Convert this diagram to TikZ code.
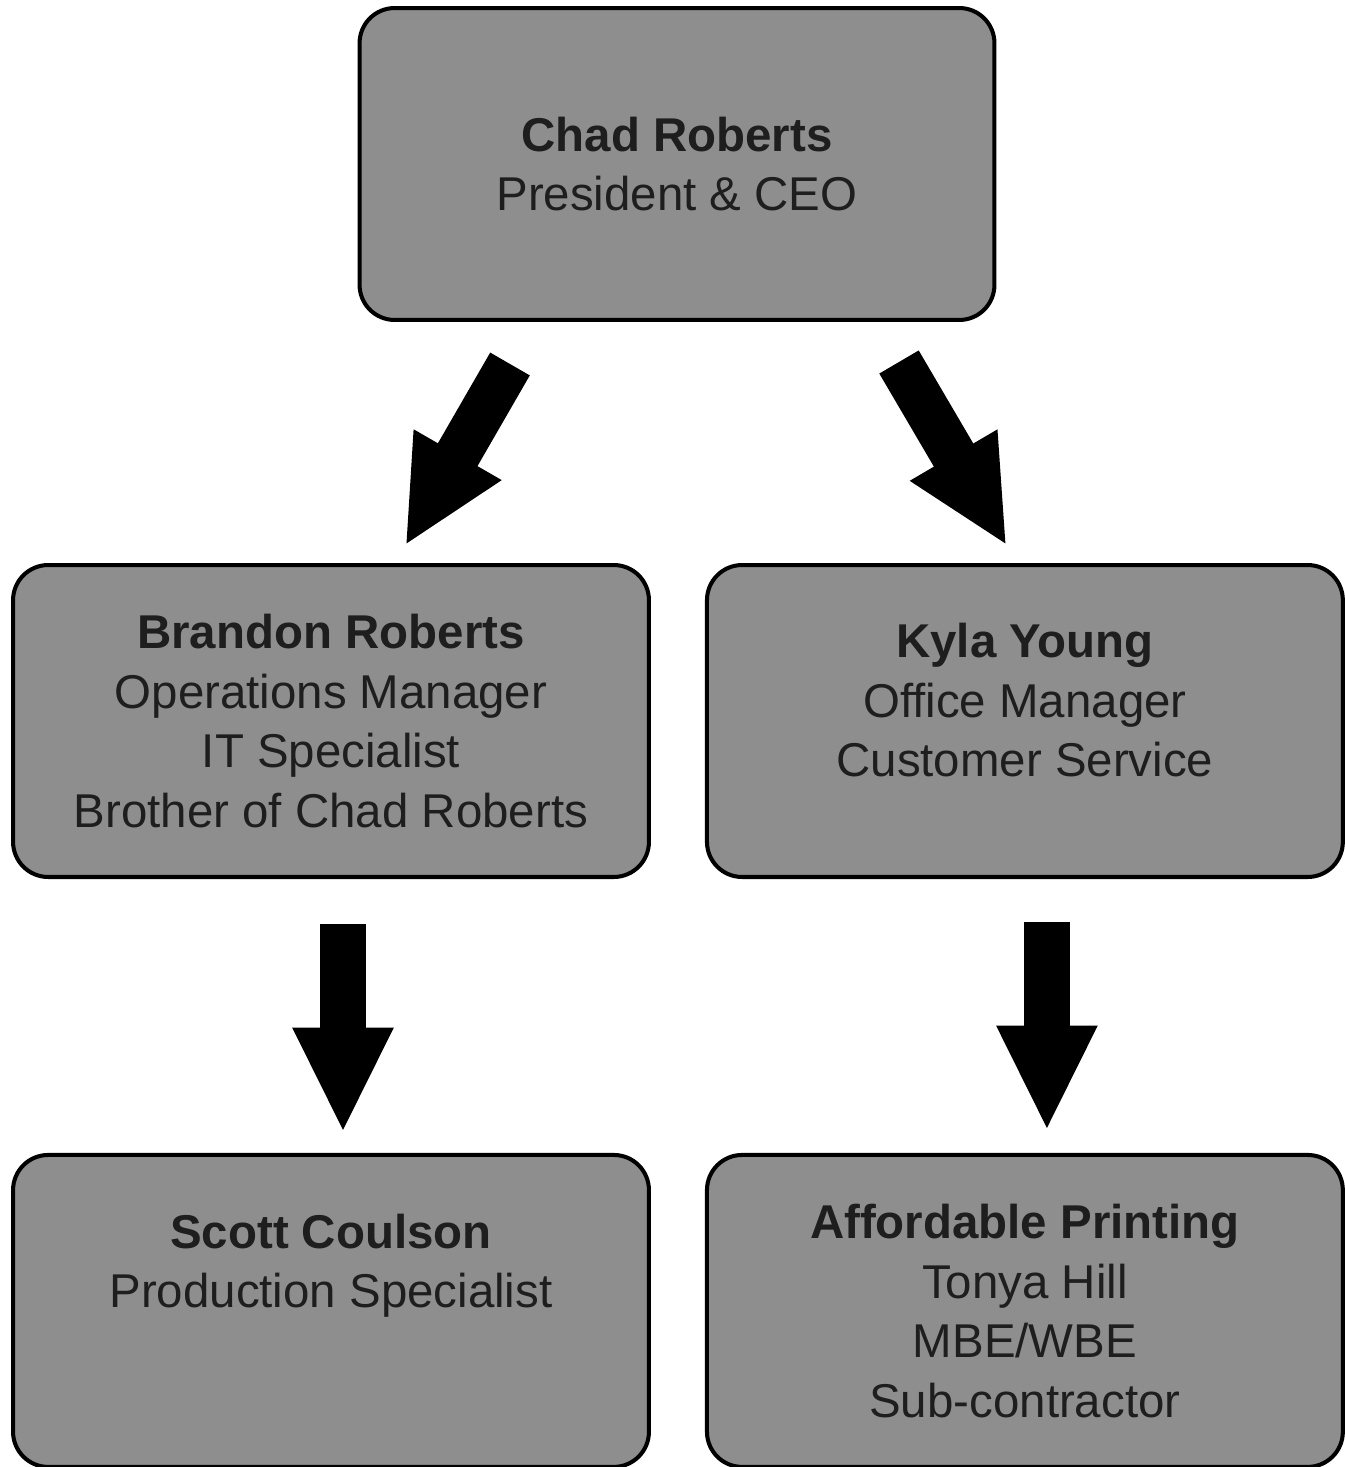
\documentclass[tikz,border=0pt]{standalone}
\usepackage{fontspec}
\setmainfont{Liberation Sans}
\usepackage{tikz}
\usetikzlibrary{arrows.meta,positioning,calc}
\definecolor{boxgray}{HTML}{8E8E8E}
\definecolor{inkgray}{HTML}{1E1E1E}
\tikzstyle{orgbox} = [draw=black, line width=2.3pt, fill=boxgray, text=inkgray,
align=center, rounded corners=20pt, minimum width=12.72cm, minimum height=6.24cm,
font=\fontsize{27}{34}\selectfont]
\tikzstyle{bigarrow} = [draw=black, line width=26pt,
-{Triangle[length=60pt, width=53pt]}]

\begin{document}
\begin{tikzpicture}[x=0.02cm, y=-0.02cm]
\useasboundingbox (0,0) rectangle (1345,1467);

\node[orgbox, minimum width=12.7cm] (ceo) at (677,164) {\textbf{Chad Roberts}\\President \& CEO};
\node[orgbox] (brandon) at (331,721) {\textbf{Brandon Roberts}\\Operations Manager\\IT Specialist\\Brother of Chad Roberts};
\node[orgbox, right=1.08cm of brandon] (kyla) {\textbf{Kyla Young}\\Office Manager\\Customer Service\\[-10pt]~};
\node[orgbox, below=5.48cm of brandon] (scott) {\textbf{Scott Coulson}\\Production Specialist\\[23pt]~};
\node[orgbox, below=5.48cm of kyla] (printing) {\textbf{Affordable Printing}\\Tonya Hill\\MBE/WBE\\Sub-contractor};

\draw[bigarrow] ($(ceo.south)+(-167,42)$) -- ($(brandon.north)+(74,-17)$);
\draw[bigarrow] ($(ceo.south)+(222,40)$) -- ($(kyla.north)+(-18,-17)$);
\draw[bigarrow] ($(brandon.south)+(12,45)$) -- ($(scott.north)+(12,-20)$);
\draw[bigarrow] ($(kyla.south)+(22,43)$) -- ($(printing.north)+(22,-22)$);

\end{tikzpicture}
\end{document}
